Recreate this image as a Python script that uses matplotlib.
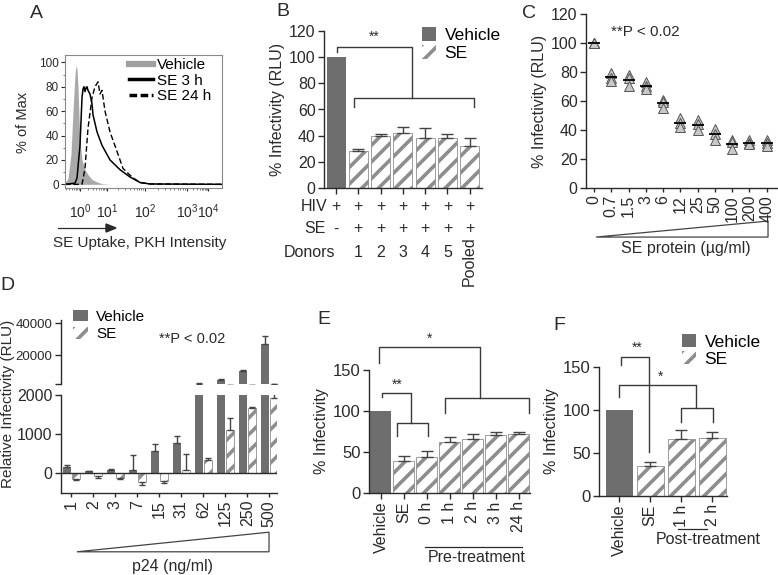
import numpy as np
import matplotlib.pyplot as plt
from matplotlib.patches import Patch, Polygon
from matplotlib.lines import Line2D

plt.rcParams['font.family'] = ['Liberation Sans', 'DejaVu Sans']
plt.rcParams['mathtext.fontset'] = 'custom'
plt.rcParams['mathtext.rm'] = 'Liberation Sans'
plt.rcParams['hatch.linewidth'] = 2.6

VEH = '#6e6e6e'
HAT = '#8e8e8e'
INK = '#2a2a2a'

# ---------------- data ----------------
# A: flow histograms, x = channel position along the axis
a_veh_x = [0, 3, 6, 8, 10, 11, 12, 13, 14, 15, 17, 20, 23, 27, 32, 37, 45, 157]
a_veh_y = [1, 5, 25, 60, 90, 97, 95, 80, 55, 35, 20, 12, 8, 4, 2, 0.5, 0, 0]
a_3h_x = [0, 10, 12, 15, 17, 18, 19, 20, 21, 22, 23, 25, 27, 28, 32, 37, 45, 55, 65, 75, 85, 157]
a_3h_y = [0, 1, 5, 32, 71, 78, 80, 76, 79, 80, 77, 74, 66, 57, 43, 32, 20, 12, 6, 1.5, 0.3, 0]
a_24h_x = [0, 17, 20, 23, 27, 30, 33, 35, 37, 40, 45, 52, 58, 67, 75, 85, 157]
a_24h_y = [0, 0, 13, 46, 71, 80, 84, 74, 77, 60, 43, 27, 13, 6, 1.5, 0.3, 0]
a_dec_pos = [15, 42, 80, 122, 143]
a_dec_lab = [r'$\mathregular{10^0}$', r'$\mathregular{10^1}$', r'$\mathregular{10^2}$',
             r'$\mathregular{10^3}$', r'$\mathregular{10^4}$']

# B: donors
b_vals = [100, 28, 40, 42, 38, 38, 32]
b_err = [0, 1.5, 1, 5, 8, 3, 6]
b_hiv = ['+', '+', '+', '+', '+', '+', '+']
b_se = ['-', '+', '+', '+', '+', '+', '+']
b_donor = ['', '1', '2', '3', '4', '5', 'Pooled']

# C: dose response (triplicates)
c_labels = ['0', '0.7', '1.5', '3', '6', '12', '25', '50', '100', '200', '400']
c_rep = [[100, 100, 100], [79, 76, 74], [78, 76, 70], [73, 70, 68], [61, 59, 55],
         [48, 45, 42], [47, 44, 40], [41, 37, 33], [33, 32, 27], [33, 31, 30], [33, 31, 29]]

# D: p24 titration
d_labels = ['1', '2', '3', '7', '15', '31', '62', '125', '250', '500']
d_veh = [145, 43, 77, 68, 573, 770, 2200, 4500, 10100, 26800]
d_veh_err = [50, 17, 34, 400, 170, 190, 200, 600, 400, 5200]
d_se = [-154, -85, -120, -240, -214, 70, 325, 1094, 1667, 1923]
d_se_err = [34, 35, 34, 68, 42, 417, 60, 316, 20, 250]

# E: pre-treatment
e_labels = ['Vehicle', 'SE', '0 h', '1 h', '2 h', '3 h', '24 h']
e_vals = [100, 39, 44, 62, 66, 71, 72]
e_err = [0, 6, 7, 6, 6, 4, 2]

# F: post-treatment
f_labels = ['Vehicle', 'SE', '1 h', '2 h']
f_vals = [100, 35, 66, 67]
f_err = [0, 5, 11, 8]

W, H = 778, 575
fig = plt.figure(figsize=(W / 100, H / 100), dpi=100)


def add_ax(l, t, r, b):
    return fig.add_axes([l / W, 1 - b / H, (r - l) / W, (b - t) / H])


def ftext(x, y, s, **kw):
    kw.setdefault('color', INK)
    fig.text(x / W, 1 - y / H, s, **kw)


def style(ax, fs):
    for s in ['top', 'right']:
        ax.spines[s].set_visible(False)
    for s in ['left', 'bottom']:
        ax.spines[s].set_color(INK)
        ax.spines[s].set_linewidth(1)
    ax.tick_params(direction='out', length=4, width=1, colors=INK, labelsize=fs, pad=2)


def bracket(ax, pts, **kw):
    xs, ys = zip(*pts)
    ax.plot(xs, ys, color='#3a3a3a', lw=1, clip_on=False, **kw)


def bar_legend(ax, x, y, fs, hl, hh, sp):
    h = [Patch(facecolor=VEH, edgecolor='none'),
         Patch(facecolor='white', edgecolor=HAT, hatch='//', lw=0)]
    ax.legend(h, ['Vehicle', 'SE'], loc='upper left', bbox_to_anchor=(x / W, 1 - y / H),
              bbox_transform=fig.transFigure, frameon=False, fontsize=fs,
              handlelength=hl, handleheight=hh, handletextpad=0.5, labelspacing=sp,
              borderpad=0, borderaxespad=0)


def draw_bars(ax, x, vals, err, width):
    vals = np.asarray(vals, float)
    ax.bar(x[:1], vals[:1], width, color=VEH, lw=0)
    ax.bar(x[1:], vals[1:], width, color='white', edgecolor=HAT, hatch='//', lw=0.6)
    lo = np.zeros(len(vals))
    ax.errorbar(x[1:], vals[1:], yerr=[lo[1:], np.asarray(err[1:], float)], fmt='none',
                ecolor='#444444', elinewidth=1, capsize=4, capthick=1)


# ---------------- A ----------------
axA = add_ax(65, 55, 222, 188)
axA.fill_between(a_veh_x, a_veh_y, color='#a9a9a9', lw=0)
axA.plot(a_3h_x, a_3h_y, color='black', lw=1.1)
axA.plot(a_24h_x, a_24h_y, color='black', lw=1.0, dashes=(4, 2))
axA.set_xlim(0, 157)
axA.set_ylim(-3, 106)
for s in axA.spines.values():
    s.set_color('#888888')
    s.set_linewidth(0.8)
axA.set_yticks([0, 20, 40, 60, 80, 100])
axA.set_yticks(np.arange(0, 101, 10), minor=True)
minor = []
decs = [a_dec_pos[0] - 27] + a_dec_pos
for d0, d1 in zip(decs[:-1], decs[1:]):
    for k in range(2, 10):
        p = d0 + (d1 - d0) * np.log10(k)
        if 0 < p < 157:
            minor.append(p)
axA.set_xticks(minor, minor=True)
axA.set_xticks(a_dec_pos, a_dec_lab)
axA.tick_params(axis='x', which='major', length=2.5, labelsize=10, pad=8, colors=INK)
axA.tick_params(axis='x', which='minor', length=1.5, color='#666666')
axA.tick_params(axis='y', which='major', length=3, labelsize=8.5, pad=1.5, colors=INK)
axA.tick_params(axis='y', which='minor', length=1.5, color='#666666')
hA = [Line2D([], [], color='#a0a0a0', lw=4.5),
      Line2D([], [], color='black', lw=2.5),
      Line2D([], [], color='black', lw=2.5, dashes=(2.2, 1))]
axA.legend(hA, ['Vehicle', 'SE 3 h', 'SE 24 h'], loc='upper left',
           bbox_to_anchor=(129 / W, 1 - 58 / H), bbox_transform=fig.transFigure,
           frameon=False, fontsize=11, handlelength=1.55, handletextpad=0.3,
           labelspacing=0.1, borderpad=0, borderaxespad=0)
ftext(23, 122, '% of Max', rotation=90, ha='center', va='center', fontsize=10.5)
fig.add_artist(Line2D([58 / W, 108 / W], [1 - 228 / H] * 2, color=INK, lw=0.9))
fig.add_artist(Polygon([[106 / W, 1 - 224 / H], [116 / W, 1 - 228 / H], [106 / W, 1 - 232 / H]],
                       closed=True, color=INK, transform=fig.transFigure))
ftext(140, 243, 'SE Uptake, PKH Intensity', ha='center', va='center', fontsize=11)

# ---------------- B ----------------
axB = add_ax(324, 31, 482, 188)
xb = np.arange(len(b_vals))
draw_bars(axB, xb, b_vals, b_err, 0.85)
style(axB, 11.5)
axB.set_xlim(-0.54, 6.55)
axB.set_ylim(0, 120)
axB.set_yticks(range(0, 121, 20))
axB.set_xticks(xb)
axB.set_xticklabels([])
bracket(axB, [(0.05, 104), (0.05, 108), (3.4, 108), (3.4, 69)])
bracket(axB, [(0.8, 62), (0.8, 69), (6.2, 69), (6.2, 62)])
axB.text(1.7, 110, '**', ha='center', va='bottom', fontsize=10, color=INK)
tb = axB.get_xaxis_transform()
for i in xb:
    axB.text(i, -0.121, b_hiv[i], transform=tb, ha='center', va='center', fontsize=11.5, color=INK)
    axB.text(i, -0.261, b_se[i], transform=tb, ha='center', va='center', fontsize=11.5, color=INK)
    if b_donor[i] == 'Pooled':
        axB.text(i, -0.31, b_donor[i], transform=tb, ha='center', va='top', rotation=90,
                 fontsize=11.5, color=INK)
    else:
        axB.text(i, -0.408, b_donor[i], transform=tb, ha='center', va='center', fontsize=11.5,
                 color=INK)
axB.text(-0.4, -0.121, 'HIV', transform=tb, ha='right', va='center', fontsize=11.5, color=INK)
axB.text(-0.45, -0.261, 'SE', transform=tb, ha='right', va='center', fontsize=11.5, color=INK)
axB.text(-0.05, -0.408, 'Donors', transform=tb, ha='right', va='center', fontsize=11.5, color=INK)
axB.set_ylabel('% Infectivity (RLU)', fontsize=11.5, color=INK, labelpad=3)
bar_legend(axB, 422, 27, 12.5, 0.8, 0.85, 0.12)

# ---------------- C ----------------
axC = add_ax(586, 14, 777, 188)
xc = np.arange(len(c_labels))
for i, reps in enumerate(c_rep):
    axC.plot([i] * len(reps), reps, linestyle='none', marker='^', ms=6.5, mfc='#c8c8c8',
             mec='#555555', mew=0.7, zorder=3)
    axC.plot([i], [np.mean(reps)], linestyle='none', marker='_', ms=8, mew=1.3,
             color='black', zorder=4)
style(axC, 11.5)
axC.set_xlim(-0.47, 10.6)
axC.set_ylim(0, 120)
axC.set_yticks(range(0, 121, 20))
axC.set_xticks(xc)
axC.set_xticklabels(c_labels, rotation=90, fontsize=11.5)
axC.tick_params(axis='x', length=3)
axC.text(0.95, 103, '**P < 0.02', fontsize=11, color=INK, va='bottom')
axC.set_ylabel('% Infectivity (RLU)', fontsize=11.5, color=INK, labelpad=3)
axC.add_patch(Polygon([[0.052, -0.282], [0.953, -0.19], [0.953, -0.282]], closed=True,
                      fill=False, edgecolor='#444444', lw=0.9, transform=axC.transAxes,
                      clip_on=False))
ftext(686, 248, 'SE protein (µg/ml)', ha='center', va='center', fontsize=11.5)

# ---------------- D ----------------
xd = np.arange(len(d_labels))
bw = 0.36
axDl = add_ax(61, 395, 277, 493)
axDu = add_ax(61, 320, 277, 384)
for ax in (axDl, axDu):
    ax.bar(xd - 0.2, d_veh, bw, color=VEH, lw=0)
    ax.bar(xd + 0.2, d_se, bw, color='white', edgecolor=HAT, hatch='//', lw=0.6)
    ax.errorbar(xd - 0.2, d_veh, yerr=[np.zeros(len(xd)), d_veh_err], fmt='none',
                ecolor='#444444', elinewidth=1, capsize=2.5, capthick=1)
    neg = np.array(d_se) < 0
    up = np.where(neg, 0, d_se_err)
    dn = np.where(neg, d_se_err, 0)
    ax.errorbar(xd + 0.2, d_se, yerr=[dn, up], fmt='none', ecolor='#444444',
                elinewidth=1, capsize=2.5, capthick=1)
    ax.set_xlim(-0.47, 9.35)
style(axDl, 11.5)
style(axDu, 9.5)
axDl.set_ylim(-513, 2000)
axDl.set_yticks([0, 1000, 2000])
axDl.axhline(0, color=INK, lw=1)
axDl.set_xticks(xd)
axDl.set_xticklabels(d_labels, rotation=90, fontsize=11.5)
axDl.tick_params(axis='x', length=3)
axDu.set_ylim(2000, 42000)
axDu.set_yticks([2000, 20000, 40000], ['', '20000', '40000'])
axDu.spines['bottom'].set_visible(False)
axDu.set_xticks([])
axDu.text(4.0, 30000, '**P < 0.02', fontsize=10.5, color=INK, va='center')
bar_legend(axDu, 73, 310, 11, 1.0, 0.75, 0.22)
ftext(8, 404, 'Relative Infectivity (RLU)', rotation=90, ha='center', va='center', fontsize=11)
axDl.add_patch(Polygon([[0.074, -0.60], [0.963, -0.40], [0.963, -0.60]], closed=True,
                       fill=False, edgecolor='#444444', lw=0.9, transform=axDl.transAxes,
                       clip_on=False))
ftext(173, 567, 'p24 (ng/ml)', ha='center', va='center', fontsize=11.5)

# ---------------- E ----------------
axE = add_ax(369, 370, 530, 493)
xe = np.arange(len(e_labels))
draw_bars(axE, xe, e_vals, e_err, 0.91)
style(axE, 12)
axE.set_xlim(-0.52, 6.48)
axE.set_ylim(0, 150)
axE.set_yticks([0, 50, 100, 150])
axE.set_xticks(xe)
axE.set_xticklabels(e_labels, rotation=90, fontsize=11.5)
bracket(axE, [(-0.09, 159), (-0.09, 178), (4.3, 178), (4.3, 116)])
bracket(axE, [(2.78, 97), (2.78, 116), (6.45, 116), (6.45, 97)])
axE.text(2.09, 180, '*', ha='center', va='bottom', fontsize=10, color=INK)
bracket(axE, [(0.04, 117), (0.04, 122), (1.3, 122), (1.3, 85)])
bracket(axE, [(0.68, 70), (0.68, 85), (2.06, 85), (2.06, 70)])
axE.text(0.7, 124, '**', ha='center', va='bottom', fontsize=10, color=INK)
axE.set_ylabel('% Infectivity', fontsize=11.5, color=INK, labelpad=3)
fig.add_artist(Line2D([425 / W, 522 / W], [1 - 547 / H] * 2, color=INK, lw=0.9))
ftext(477, 558, 'Pre-treatment', ha='center', va='center', fontsize=11.5)

# ---------------- F ----------------
axF = add_ax(599, 367, 727, 496)
xf = np.arange(len(f_labels))
draw_bars(axF, xf, f_vals, f_err, 0.87)
style(axF, 12)
axF.set_xlim(-0.65, 3.48)
axF.set_ylim(0, 150)
axF.set_yticks([0, 50, 100, 150])
axF.set_xticks(xf)
axF.set_xticklabels(f_labels, rotation=90, fontsize=11.5)
bracket(axF, [(0.06, 152), (0.06, 162), (0.97, 162), (0.97, 51)])
axF.text(0.58, 164, '**', ha='center', va='bottom', fontsize=10, color=INK)
bracket(axF, [(0.0, 115), (0.0, 129), (2.48, 129), (2.48, 102)])
bracket(axF, [(2.0, 86), (2.0, 102), (3.03, 102), (3.03, 86)])
axF.text(1.32, 131, '*', ha='center', va='bottom', fontsize=10, color=INK)
axF.set_ylabel('% Infectivity', fontsize=11.5, color=INK, labelpad=3)
bar_legend(axF, 682, 334, 12.5, 0.8, 0.8, 0.08)
fig.add_artist(Line2D([678 / W, 707 / W], [1 - 529 / H] * 2, color=INK, lw=0.9))
ftext(708, 539, 'Post-treatment', ha='center', va='center', fontsize=11.5)

# panel letters
for lab, (x, y) in zip('ABCDEF', [(36, 13), (283, 11), (529, 13), (7, 286), (324, 319), (559, 326)]):
    ftext(x, y, lab, ha='center', va='center', fontsize=14)

fig.savefig('out.png', dpi=100)
